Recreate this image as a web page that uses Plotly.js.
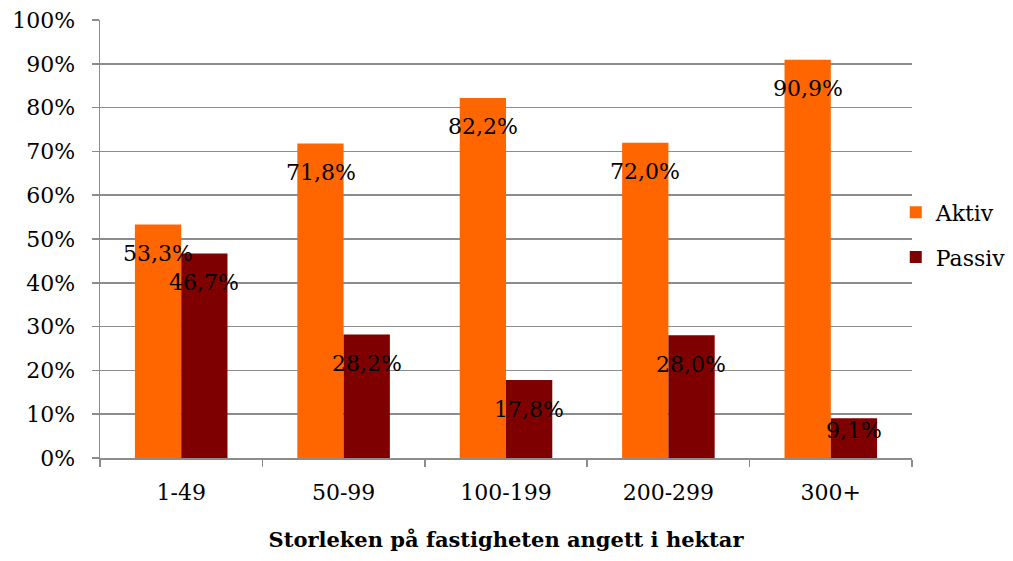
<!DOCTYPE html>
<html>
<head>
<meta charset="utf-8">
<script src="https://cdn.plot.ly/plotly-3.0.1.min.js"></script>
<style>html,body{margin:0;padding:0;background:#fff;}#chart{width:1013px;height:561px;}</style>
</head>
<body>
<div id="chart"></div>
<script>
const categories = ['1-49', '50-99', '100-199', '200-299', '300+'];
const aktiv = [53.3, 71.8, 82.2, 72.0, 90.9];
const passiv = [46.7, 28.2, 17.8, 28.0, 9.1];
const seriesNames = ['Aktiv', 'Passiv'];
const xTitle = 'Storleken på fastigheten angett i hektar';

const FONT = 'DejaVu Serif, Liberation Serif, serif';
const plotH = 561 - 20 - 103;
const pxPerUnit = plotH / 100;
const fmt = v => v.toFixed(1).replace('.', ',') + '%';

function labels(vals, shift) {
  return vals.map((v, i) => {
    const barPx = v * pxPerUnit;
    const down = Math.min(29, barPx - 27);
    return {
      x: categories[i], y: v, xref: 'x', yref: 'y',
      text: fmt(v), showarrow: false,
      xshift: shift, yshift: -down, yanchor: 'middle',
      font: {family: FONT, size: 22, color: '#000'}
    };
  });
}

const traces = [
  {type: 'bar', name: seriesNames[0], x: categories, y: aktiv,
   marker: {color: '#FF6600'}, legendgroup: 'a', hoverinfo: 'none'},
  {type: 'bar', name: seriesNames[1], x: categories, y: passiv,
   marker: {color: '#7F0000'}, legendgroup: 'p', hoverinfo: 'none'}
];

const layout = {
  width: 1013, height: 561,
  margin: {l: 100, r: 101, t: 20, b: 103, autoexpand: false},
  paper_bgcolor: '#fff', plot_bgcolor: '#fff',
  barmode: 'group', bargap: 0.43, bargroupgap: 0,
  font: {family: FONT, size: 22, color: '#000'},
  showlegend: true,
  legend: {x: 0.980, xanchor: 'left', y: 0.509, yanchor: 'middle',
           traceorder: 'grouped', tracegroupgap: 13,
           font: {family: FONT, size: 22, color: '#000'}, bgcolor: 'rgba(0,0,0,0)'},
  xaxis: {
    type: 'category', showgrid: false, showline: true, linecolor: '#8c8c8c', linewidth: 1.5,
    ticks: 'outside', tickson: 'boundaries', ticklen: 7, tickcolor: '#8c8c8c', tickwidth: 1.5,
    tickfont: {family: FONT, size: 22, color: '#000'}, ticklabelstandoff: 14,
    title: {text: '<b>' + xTitle + '</b>', font: {family: FONT, size: 21, color: '#000'}, standoff: 28},
    fixedrange: true
  },
  yaxis: {
    range: [0, 100], dtick: 10, ticksuffix: '%', showgrid: true, gridcolor: '#8c8c8c', gridwidth: 1.5,
    showline: true, linecolor: '#8c8c8c', linewidth: 1.5, zeroline: false,
    ticks: 'outside', ticklen: 7, tickcolor: '#8c8c8c', tickwidth: 1.5,
    tickfont: {family: FONT, size: 22, color: '#000'}, ticklabelstandoff: 12,
    fixedrange: true
  },
  annotations: labels(aktiv, -23).concat(labels(passiv, 23))
};

Plotly.newPlot('chart', traces, layout, {displayModeBar: false, staticPlot: true});
</script>
</body>
</html>
